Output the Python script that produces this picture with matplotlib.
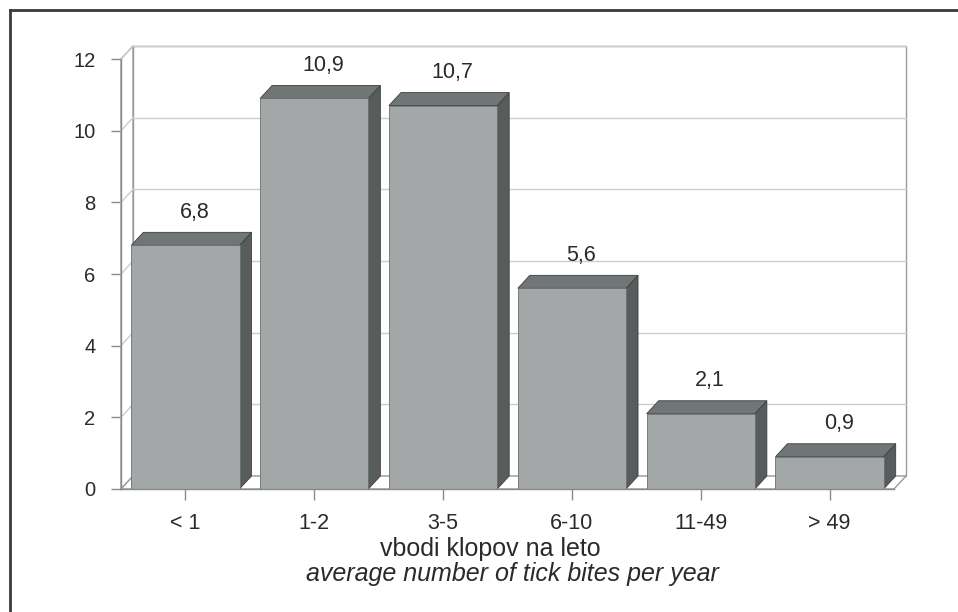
import matplotlib
matplotlib.use("Agg")
import matplotlib.pyplot as plt
from matplotlib.patches import Polygon, Rectangle
from matplotlib.lines import Line2D

plt.rcParams['font.family'] = ['Liberation Sans', 'DejaVu Sans']

categories = ["< 1", "1-2", "3-5", "6-10", "11-49", "> 49"]
values = [6.8, 10.9, 10.7, 5.6, 2.1, 0.9]
value_labels = ["6,8", "10,9", "10,7", "5,6", "2,1", "0,9"]
yticks = [0, 2, 4, 6, 8, 10, 12]
xlabel1 = "vbodi klopov na leto"
xlabel2 = "average number of tick bites per year"

W, H = 958, 612
fig = plt.figure(figsize=(W / 100, H / 100), dpi=100)
fig.patch.set_facecolor("white")

# axes placed by pixel geometry
x0p, x1p, ybp, ytp = 121, 894, 489, 59
ax = fig.add_axes([x0p / W, (H - ybp) / H, (x1p - x0p) / W, (ybp - ytp) / H])
ax.set_xlim(-0.5, len(categories) - 0.5)
ax.set_ylim(0, 12)
ax.set_facecolor("none")
for s in ax.spines.values():
    s.set_visible(False)

# depth offset in data units derived from the axes scale
px_per_x = (x1p - x0p) / len(categories)
px_per_y = (ybp - ytp) / 12.0
dx = 12 / px_per_x
dy = 13 / px_per_y

xa, xb = -0.5, len(categories) - 0.5
ymax = 12

edge_grey = "#9a9a9a"
grid_grey = "#cccccc"
text_c = "#2a2a2a"

# back wall
ax.add_patch(Rectangle((xa + dx, dy), xb - xa, ymax, facecolor="white",
                       edgecolor=edge_grey, lw=1.0, clip_on=False, zorder=1))
# left wall
ax.add_patch(Polygon([(xa, 0), (xa + dx, dy), (xa + dx, ymax + dy), (xa, ymax)],
                     closed=True, facecolor="white", edgecolor=edge_grey, lw=1.0,
                     clip_on=False, zorder=1))
# floor
ax.add_patch(Polygon([(xa, 0), (xb, 0), (xb + dx, dy), (xa + dx, dy)],
                     closed=True, facecolor="white", edgecolor=edge_grey, lw=1.0,
                     clip_on=False, zorder=1))
# gridlines
for t in yticks[1:]:
    ax.add_line(Line2D([xa + dx, xb + dx], [t + dy, t + dy], color=grid_grey, lw=1.0,
                       clip_on=False, zorder=2))
    ax.add_line(Line2D([xa, xa + dx], [t, t + dy], color=grid_grey, lw=1.0,
                       clip_on=False, zorder=2))

# bars
w = 0.84
front_c = "#a3a7a7"
top_c = "#707575"
side_c = "#575c5c"
for i, (v, lab) in enumerate(zip(values, value_labels)):
    l, r = i - w / 2, i + w / 2
    ax.add_patch(Polygon([(r, 0), (r + dx, dy), (r + dx, v + dy), (r, v)], closed=True,
                         facecolor=side_c, edgecolor="#3c3f3f", lw=0.6, clip_on=False, zorder=3))
    ax.add_patch(Polygon([(l, v), (r, v), (r + dx, v + dy), (l + dx, v + dy)], closed=True,
                         facecolor=top_c, edgecolor="#3c3f3f", lw=0.6, clip_on=False, zorder=3))
    ax.add_patch(Rectangle((l, 0), w, v, facecolor=front_c, edgecolor="#6a6e6e", lw=0.6,
                           clip_on=False, zorder=4))
    ax.annotate(lab, (i + dx, v + dy), xytext=(-2, 7), textcoords="offset points",
                ha="center", va="bottom", fontsize=15.5, color=text_c, zorder=5)

# axis lines
ax.add_line(Line2D([xa, xa], [0, ymax], color="#8a8a8a", lw=1.0, clip_on=False, zorder=5))
ax.add_line(Line2D([xa, xb], [0, 0], color="#8a8a8a", lw=1.0, clip_on=False, zorder=5))

ax.set_yticks(yticks)
ax.set_yticklabels([str(t) for t in yticks])
ax.set_xticks(range(len(categories)))
ax.set_xticklabels(categories)
ax.tick_params(axis="y", direction="out", length=7.5, width=1.0, color="#8a8a8a",
               labelsize=14.5, labelcolor=text_c, pad=11)
ax.tick_params(axis="x", direction="out", length=8, width=1.0, color="#8a8a8a",
               labelsize=15.5, labelcolor=text_c, pad=9)

fig.text(490 / W, (H - 549) / H, xlabel1, ha="center", va="center", fontsize=18,
         color=text_c)
fig.text(512 / W, (H - 574) / H, xlabel2, ha="center", va="center", fontsize=18,
         style="italic", color=text_c)

# outer frame (left and top edges visible)
fig.add_artist(Line2D([10 / W, 10 / W], [0, (H - 10) / H], color="#3a3a3a", lw=2.0,
                      transform=fig.transFigure))
fig.add_artist(Line2D([10 / W, 1], [(H - 10) / H, (H - 10) / H], color="#3a3a3a", lw=2.0,
                      transform=fig.transFigure))

fig.savefig("out.png", dpi=100, facecolor="white")
